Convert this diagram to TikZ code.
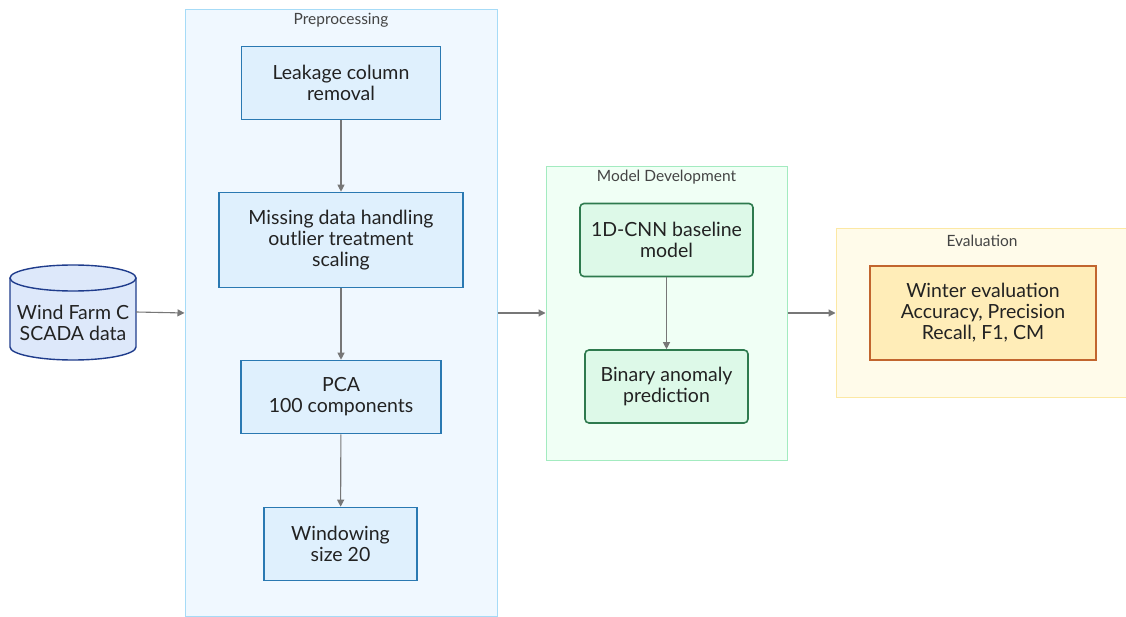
\documentclass[tikz,border=0pt]{standalone}
\usepackage{fontspec}
\setmainfont{Lato}
\usetikzlibrary{arrows.meta}

\definecolor{preFill}{HTML}{F0F8FF}
\definecolor{preLine}{HTML}{A6DBF7}
\definecolor{blueFill}{HTML}{DFF0FD}
\definecolor{blueLine}{HTML}{2A79B2}
\definecolor{modFill}{HTML}{F0FFF5}
\definecolor{modLine}{HTML}{A3EBC0}
\definecolor{greenFill}{HTML}{DDF9E8}
\definecolor{greenLine}{HTML}{2E7A4E}
\definecolor{evFill}{HTML}{FFFBEA}
\definecolor{evLine}{HTML}{FCE8A4}
\definecolor{orFill}{HTML}{FFEDB8}
\definecolor{orLine}{HTML}{C2652E}
\definecolor{cylFill}{HTML}{DDE8FA}
\definecolor{cylLine}{HTML}{1F3C8C}
\definecolor{edgeCol}{HTML}{777777}
\definecolor{txt}{HTML}{222222}
\definecolor{titleCol}{HTML}{444444}

\tikzset{
  cluster/.style={draw, line width=1pt, inner sep=0pt},
  ctitle/.style={font=\fontsize{15.5}{17}\selectfont, text=titleCol, inner sep=0pt},
  boxtext/.style={align=center, text=txt, font=\fontsize{19.5}{21}\selectfont, inner sep=0pt},
  procbox/.style={boxtext, draw=blueLine, fill=blueFill, line width=1.6pt},
  modelbox/.style={boxtext, draw=greenLine, fill=greenFill, line width=1.6pt, rounded corners=4pt},
  evalbox/.style={boxtext, draw=orLine, fill=orFill, line width=1.6pt},
  flow/.style={draw=edgeCol, line width=1.1pt, -{Triangle[length=7pt,width=7pt]}},
}

\begin{document}
\begin{tikzpicture}[x=1pt,y=-1pt]
\useasboundingbox (0,0) rectangle (1126,617);
\fill[white] (0,0) rectangle (1126,617);

% groups
\node (pre) [cluster, draw=preLine, fill=preFill, minimum width=312, minimum height=606] at (341,313) {};
\node (preT) [ctitle] at (341,20) {Preprocessing};
\node (mod) [cluster, draw=modLine, fill=modFill, minimum width=241, minimum height=293] at (666.5,313.5) {};
\node (modT) [ctitle] at (666.5,177.5) {Model Development};
\node (ev) [cluster, draw=evLine, fill=evFill, minimum width=292, minimum height=168] at (982,313) {};
\node (evT) [ctitle] at (982,240.5) {Evaluation};

% data source cylinder
\node (src) [minimum width=126, minimum height=95, inner sep=0pt] at (73,312) {};
\filldraw[draw=cylLine, fill=cylFill, line width=1.4pt]
  (10,278) -- (10,347) arc[start angle=180, end angle=360, x radius=63pt, y radius=13pt]
  -- (136,278);
\filldraw[draw=cylLine, fill=cylFill, line width=1.4pt]
  (73,278) ellipse[x radius=63pt, y radius=13pt];
\node (srcT) [boxtext] at (73,322.5) {Wind Farm C\\SCADA data};

% preprocessing steps
\node (leak) [procbox, minimum width=199, minimum height=73] at (341,83) {Leakage column\\removal};
\node (miss) [procbox, minimum width=244, minimum height=95] at (341,240) {Missing data handling\\outlier treatment\\scaling};
\node (pca)  [procbox, minimum width=200, minimum height=73] at (341,397) {PCA\\100 components};
\node (win)  [procbox, minimum width=153, minimum height=73] at (340.5,544) {Windowing\\size 20};

% model steps
\node (cnn) [modelbox, minimum width=173, minimum height=73] at (666.5,240) {1D-CNN baseline\\model};
\node (bin) [modelbox, minimum width=163, minimum height=73] at (666.5,386.5) {Binary anomaly\\prediction};

% evaluation
\node (wint) [evalbox, minimum width=226, minimum height=94] at (983,313) {Winter evaluation\\Accuracy, Precision\\Recall, F1, CM};

% connectors
\draw[flow] (src.east) -- (pre.west);
\draw[flow] (leak) -- (miss);
\draw[flow] (miss) -- (pca);
\draw[flow] (pca) -- (win);
\draw[flow] (pre.east) -- (mod.west |- pre.east);
\draw[flow] (cnn) -- (bin);
\draw[flow] (mod.east |- pre.east) -- (ev.west |- pre.east);
\end{tikzpicture}
\end{document}
